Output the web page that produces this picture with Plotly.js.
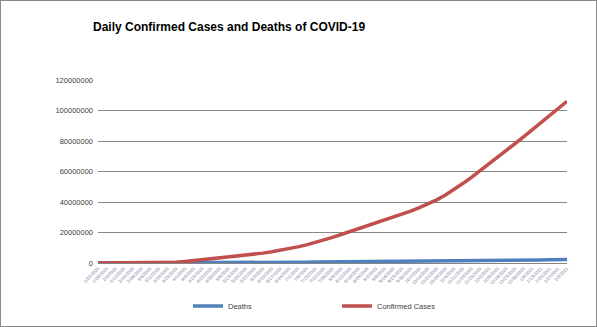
<!DOCTYPE html>
<html>
<head>
<meta charset="utf-8">
<script src="https://cdn.plot.ly/plotly-3.0.1.min.js"></script>
<style>
html,body{margin:0;padding:0;background:#fff;}
#frame{width:597px;height:327px;box-sizing:border-box;border:1px solid #8a8a8a;position:relative;overflow:hidden;}
#chart{position:absolute;left:-1px;top:-1px;width:597px;height:327px;}
</style>
</head>
<body>
<div id="frame"><div id="chart"></div></div>
<script>
const dates = ["1/22/2020","1/29/2020","2/5/2020","2/12/2020","2/19/2020","2/26/2020","3/4/2020","3/11/2020","3/18/2020","3/25/2020",
"4/1/2020","4/8/2020","4/15/2020","4/22/2020","4/29/2020","5/6/2020","5/13/2020","5/20/2020","5/27/2020","6/3/2020",
"6/10/2020","6/17/2020","6/24/2020","7/1/2020","7/8/2020","7/15/2020","7/22/2020","7/29/2020","8/5/2020","8/12/2020",
"8/19/2020","8/26/2020","9/2/2020","9/9/2020","9/16/2020","9/23/2020","9/30/2020","10/7/2020","10/14/2020","10/21/2020",
"10/28/2020","11/4/2020","11/11/2020","11/18/2020","11/25/2020","12/2/2020","12/9/2020","12/16/2020","12/23/2020","12/30/2020",
"1/6/2021","1/13/2021","1/20/2021","1/27/2021","2/3/2021"];

const confirmed = [555,6166,28276,45171,75641,81397,94250,125865,214910,467653,
932605,1511104,2056055,2623415,3185195,3759967,4347018,4996472,5701337,6479405,
7322599,8245436,9295596,10585000,11874000,13380000,15080000,16810000,18700000,20600000,
22360000,24100000,25900000,27800000,29900000,31900000,34000000,36300000,38700000,41400000,
44600000,48100000,52100000,56200000,60500000,64600000,68900000,73400000,78200000,82700000,
87400000,92000000,96500000,101000000,106000000];

const deaths = [17,133,565,1118,2122,2770,3200,4615,8733,21180,
47200,88300,137000,183000,228000,264000,297000,329000,357000,384000,
413000,445000,480000,517000,546000,581000,619000,659000,700000,741000,
786000,825000,862000,897000,938000,976000,1012000,1052000,1091000,1130000,
1176000,1225000,1284000,1346000,1415000,1489000,1566000,1645000,1723000,1804000,
1904000,2000000,2100000,2200000,2290000];

const yTicks = [0,20000000,40000000,60000000,80000000,100000000,120000000];

const traces = [
  {x: dates, y: deaths, name: "Deaths", type: "scatter", mode: "lines",
   line: {color: "#4F81BD", width: 3.5}},
  {x: dates, y: confirmed, name: "Confirmed Cases", type: "scatter", mode: "lines",
   line: {color: "#C0504D", width: 3.5}}
];

const layout = {
  width: 597, height: 327,
  margin: {l: 98, r: 30, t: 80, b: 64, pad: 0, autoexpand: false},
  paper_bgcolor: "rgba(0,0,0,0)", plot_bgcolor: "#fff",
  showlegend: true,
  title: {text: "Daily Confirmed Cases and Deaths of COVID-19",
    font: {family: "Liberation Sans, Arial, sans-serif", size: 12, color: "#000", weight: "bold"},
    x: 93/597, xanchor: "left", xref: "container", y: 1 - 27/327, yanchor: "middle", yref: "container"},
  xaxis: {type: "category", range: [0, dates.length - 1],
    tickmode: "array", tickvals: dates, ticktext: dates, automargin: false,
    tickangle: -45, tickfont: {family: "Liberation Sans, Arial, sans-serif", size: 4.5, color: "#7a7a9a"},
    showgrid: false, showline: true, linecolor: "#868686", linewidth: 1.3, ticks: "",
    zeroline: false, fixedrange: true},
  yaxis: {range: [0, 120000000], tickmode: "array", tickvals: yTicks, tickformat: "d", automargin: false,
    tickfont: {family: "Liberation Sans, Arial, sans-serif", size: 7.5, color: "#404040"},
    showgrid: true, gridcolor: "#868686", gridwidth: 1, zeroline: false, showline: false,
    ticks: "", ticklabelstandoff: 4, fixedrange: true},
  legend: {orientation: "h", x: 188/597, xref: "container", xanchor: "left",
    y: 1 - 306/327, yref: "container", yanchor: "middle",
    entrywidth: 104, entrywidthmode: "pixels", itemwidth: 30,
    font: {family: "Liberation Sans, Arial, sans-serif", size: 7.5, color: "#404040"},
    bgcolor: "rgba(0,0,0,0)"}
};

Plotly.newPlot("chart", traces, layout, {displayModeBar: false, staticPlot: true});
</script>
</body>
</html>
